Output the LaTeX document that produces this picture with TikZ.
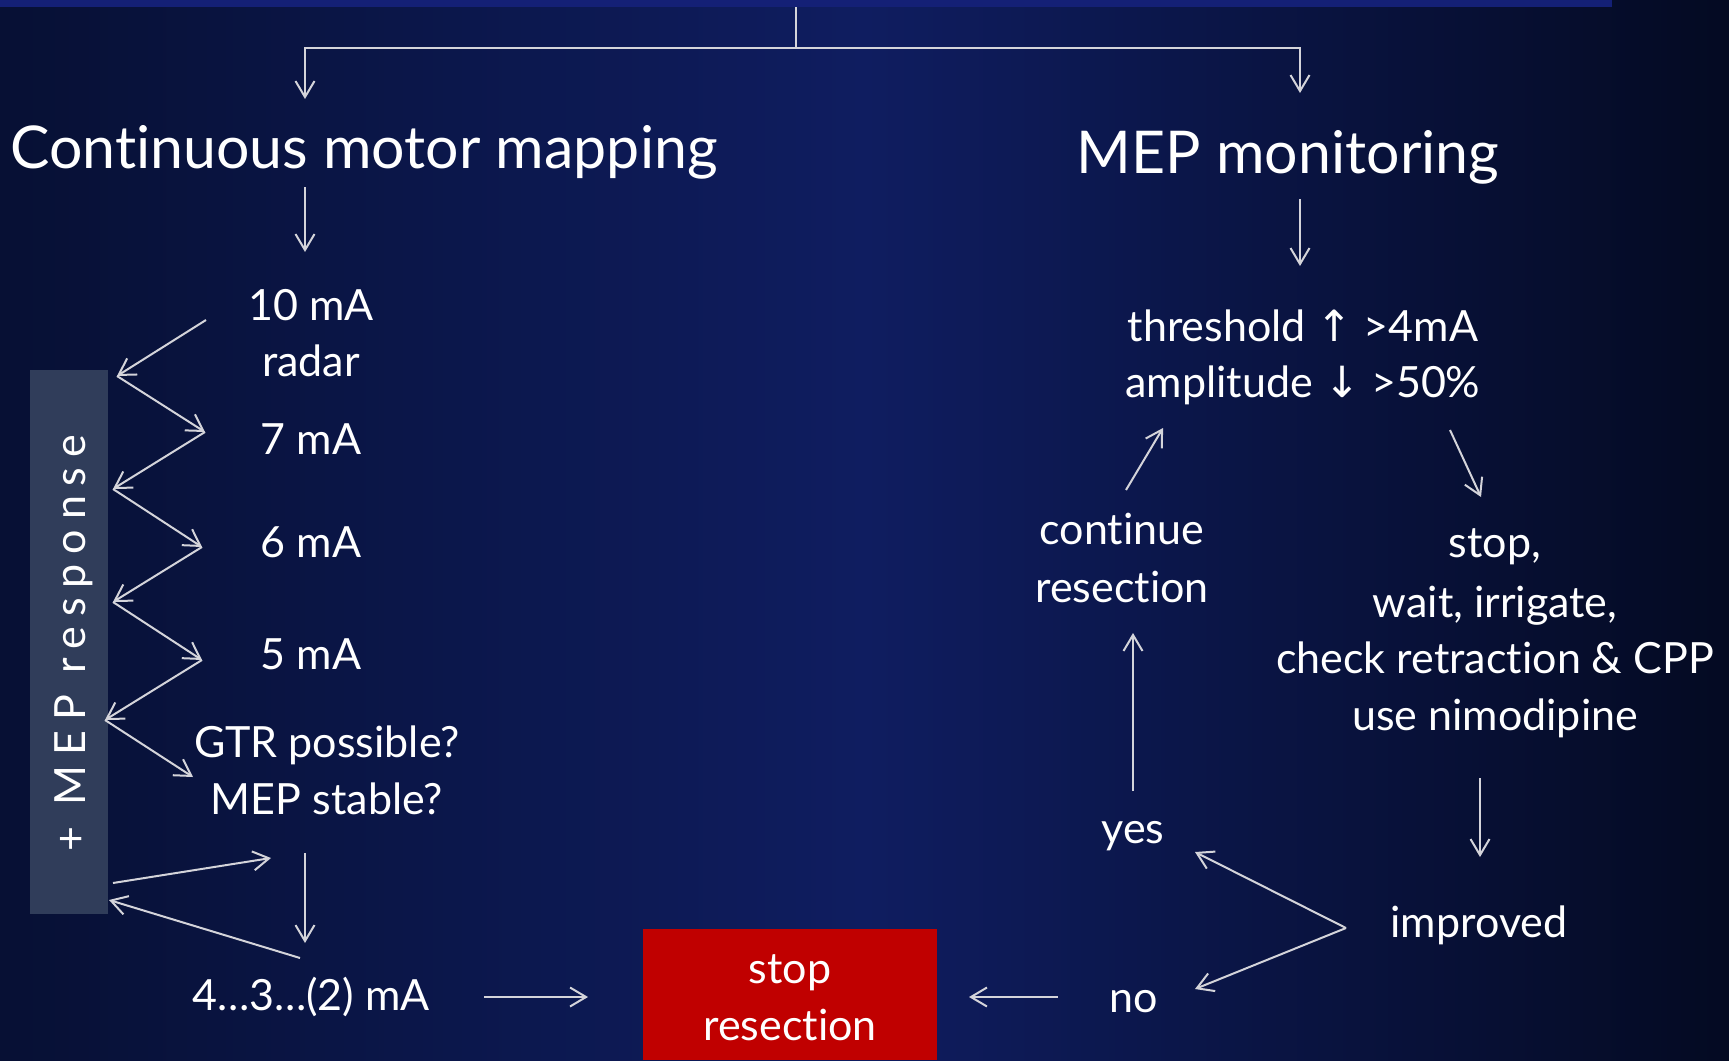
\documentclass[tikz,border=0pt]{standalone}
\usepackage{fontspec}
\setmainfont{Lato}[Ligatures=NoCommon]
\newfontfamily\symfont{DejaVu Sans}
\usetikzlibrary{arrows.meta}
\definecolor{bgL}{RGB}{7,16,52}
\definecolor{bgM}{RGB}{15,29,96}
\definecolor{bgR}{RGB}{4,10,34}
\definecolor{barC}{RGB}{20,32,118}
\definecolor{lineC}{RGB}{212,212,218}
\definecolor{stopred}{RGB}{192,0,0}
\definecolor{mepbox}{RGB}{48,61,90}
\begin{document}
\begin{tikzpicture}[x=1pt,y=-1pt,
  conn/.style={draw=lineC, line width=2pt, -{Straight Barb[length=16pt,width=19pt,line width=2pt]}},
  plain/.style={draw=lineC, line width=2pt},
  txt/.style={text=white, font=\fontsize{43}{52}\selectfont, inner sep=0pt, anchor=base},
  title/.style={text=white, font=\fontsize{59}{68}\selectfont, inner sep=0pt, anchor=base}]
\useasboundingbox (0,0) rectangle (1729,1060);
\shade[left color=bgL, right color=bgR, middle color=bgM] (0,0) rectangle (1729,1060);
\fill[barC] (0,0) rectangle (1612,7);
% MEP response box
\fill[mepbox] (30,370) rectangle (108,914);
\node[txt, rotate=90] (mepresp) at (85,643) {\addfontfeature{LetterSpace=23}+ MEP response};
% red box
\node[fill=stopred, minimum width=294pt, minimum height=131pt, inner sep=0pt, anchor=north west] (stopbox) at (643,929) {};
\node[txt] (stop1) at (790,983) {stop};
\node[txt] (stop2) at (790,1040) {resection};
% titles
\node[title] (cmm) at (364,168) {Continuous motor mapping};
\node[title] (mep) at (1288,173) {MEP monitoring};
% top connector
\coordinate (top) at (796,7);
\coordinate (hm) at (796,48);
\coordinate (aL) at (305,99);
\coordinate (aR) at (1300,93);
\draw[plain] (top) -- (hm);
\draw[conn] (hm) -| (aL);
\draw[conn] (hm) -| (aR);
% left column
\coordinate (cmmA) at (305,187);
\coordinate (cmmB) at (305,252);
\draw[conn] (cmmA) -- (cmmB);
\node[txt] (ma10) at (311,320) {10 mA};
\node[txt] (radar) at (311,376) {radar};
\node[txt] (ma7) at (311,454) {7 mA};
\node[txt] (ma6) at (311,557) {6 mA};
\node[txt] (ma5) at (311,669) {5 mA};
\node[txt] (gtr) at (327,757) {GTR possible?};
\node[txt] (mepst) at (327,814) {MEP stable?};
\node[txt] (ma4) at (311,1010) {4…3…(2) mA};
\coordinate (z0) at (206,320);
\coordinate (z1) at (117,376);
\coordinate (z2) at (205,432);
\coordinate (z3) at (113,489);
\coordinate (z4) at (202,547);
\coordinate (z5) at (113,602);
\coordinate (z6) at (202,660);
\coordinate (z7) at (105,720);
\coordinate (z8) at (193,777);
\draw[conn] (z0) -- (z1);
\draw[conn] (z1) -- (z2);
\draw[conn] (z2) -- (z3);
\draw[conn] (z3) -- (z4);
\draw[conn] (z4) -- (z5);
\draw[conn] (z5) -- (z6);
\draw[conn] (z6) -- (z7);
\draw[conn] (z7) -- (z8);
\coordinate (b1) at (113,883);
\coordinate (b2) at (271,858);
\coordinate (b3) at (300,958);
\coordinate (b4) at (109,900);
\draw[conn] (b1) -- (b2);
\draw[conn] (b3) -- (b4);
\coordinate (gA) at (305,853);
\coordinate (gB) at (305,943);
\draw[conn] (gA) -- (gB);
\coordinate (m4A) at (484,997);
\coordinate (m4B) at (588,997);
\draw[conn] (m4A) -- (m4B);
% right column
\coordinate (mepA) at (1300,199);
\coordinate (mepB) at (1300,266);
\draw[conn] (mepA) -- (mepB);
\node[txt] (thr) at (1303,341) {threshold {\symfont ↑} >4mA};
\node[txt] (amp) at (1303,397) {amplitude {\symfont ↓} >50\%};
\node[txt] (cont1) at (1122,544) {continue};
\node[txt] (cont2) at (1122,602) {resection};
\node[txt] (st1) at (1495,557) {stop,};
\node[txt] (st2) at (1495,617) {wait, irrigate,};
\node[txt] (st3) at (1495,673) {check retraction \& CPP};
\node[txt] (st4) at (1495,730) {use nimodipine};
\node[txt] (yes) at (1133,843) {yes};
\node[txt] (no) at (1134,1012) {no};
\node[txt] (impr) at (1479,937) {improved};
\coordinate (c1s) at (1126,490);
\coordinate (c1e) at (1163,428);
\draw[conn] (c1s) -- (c1e);
\coordinate (t1s) at (1450,430);
\coordinate (t1e) at (1481,497);
\draw[conn] (t1s) -- (t1e);
\coordinate (ysA) at (1133,791);
\coordinate (ysB) at (1133,633);
\draw[conn] (ysA) -- (ysB);
\coordinate (imA) at (1480,778);
\coordinate (imB) at (1480,857);
\draw[conn] (imA) -- (imB);
\coordinate (impv) at (1346,928);
\coordinate (toyes) at (1195,852);
\coordinate (tono) at (1195,989);
\draw[conn] (impv) -- (toyes);
\draw[conn] (impv) -- (tono);
\coordinate (noA) at (1058,997);
\coordinate (noB) at (969,997);
\draw[conn] (noA) -- (noB);
\end{tikzpicture}
\end{document}
